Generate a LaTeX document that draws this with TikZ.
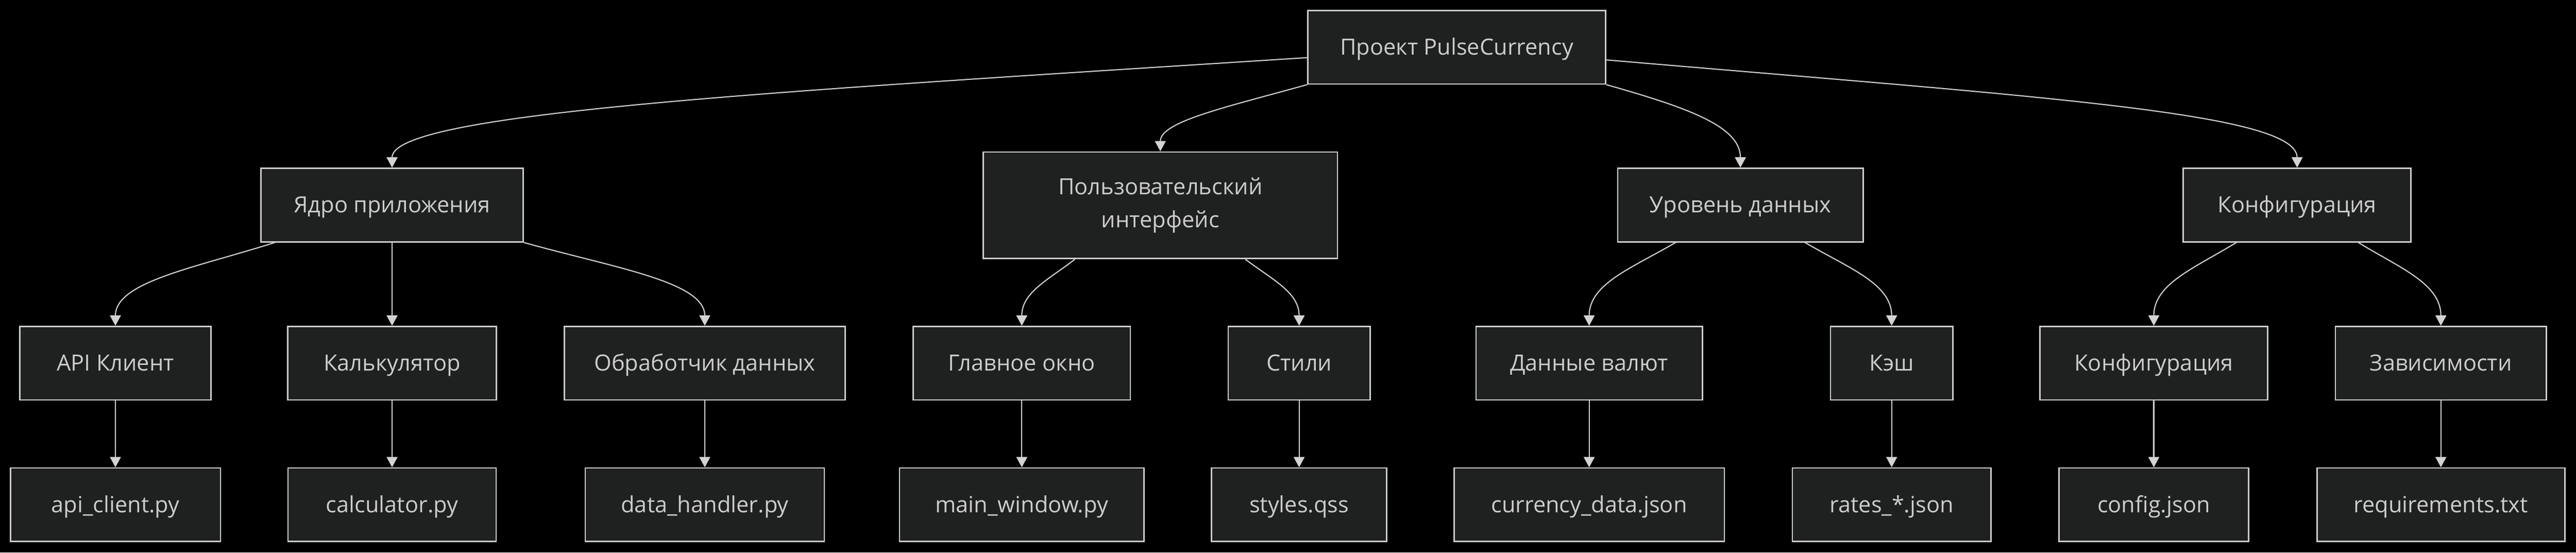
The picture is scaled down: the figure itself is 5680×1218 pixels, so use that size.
\documentclass[tikz,border=0pt]{standalone}
\usepackage{fontspec}
\setmainfont{Open Sans}
\usetikzlibrary{arrows.meta,calc}
\definecolor{nodefill}{HTML}{1F2020}
\definecolor{nodeline}{HTML}{CCCCCC}
\definecolor{linkline}{HTML}{D3D3D3}

\begin{document}
\begin{tikzpicture}[x=0.25pt,y=-0.25pt,
	box/.style={draw=nodeline,fill=nodefill,line width=0.75pt,text=nodeline,minimum height=40.5pt,inner sep=0pt,text height=9.5pt,text depth=1pt,align=center,font=\fontsize{12.3}{18}\selectfont},
	link/.style={draw=linkline,line width=0.6pt,-{Triangle[length=5.7pt,width=6pt]}}]
	% draw background
	\fill[black] (0,0) rectangle (5680,1218);
	% draw top node
	\node[box,minimum width=164pt] (root) at (3212,104) {Проект PulseCurrency};
	% draw first level
	\node[box,minimum width=144.5pt] (core) at (864.5,452) {Ядро приложения};
	\node[box,minimum width=195.25pt,minimum height=58.75pt,text height=,text depth=] (ui) at (2558.5,452.5) {Пользовательский\\интерфейс};
	\node[box,minimum width=135.25pt] (data) at (3837.5,452) {Уровень данных};
	\node[box,minimum width=125.5pt] (conf) at (5065,452) {Конфигурация};
	% draw second level
	\node[box,minimum width=105.5pt] (api) at (254.5,800.5) {API Клиент};
	\node[box,minimum width=115.1pt] (calc) at (864.5,800.5) {Калькулятор};
	\node[box,minimum width=154.8pt] (handler) at (1554,800.5) {Обработчик данных};
	\node[box,minimum width=119.6pt] (mainwin) at (2253,800.5) {Главное окно};
	\node[box,minimum width=78.25pt] (styles) at (2864.5,800.5) {Стили};
	\node[box,minimum width=124.75pt] (currency) at (3504,800.5) {Данные валют};
	\node[box,minimum width=67.5pt] (cache) at (4171,800.5) {Кэш};
	\node[box,minimum width=125.5pt] (config) at (4749,800.5) {Конфигурация};
	\node[box,minimum width=116.25pt] (deps) at (5382,800.5) {Зависимости};
	% draw files
	\node[box,minimum width=115.75pt] (apifile) at (254.5,1112.5) {api\_client.py};
	\node[box,minimum width=114.75pt] (calcfile) at (864.5,1112.5) {calculator.py};
	\node[box,minimum width=131.75pt] (handlerfile) at (1554,1112.5) {data\_handler.py};
	\node[box,minimum width=134.75pt] (mainfile) at (2253,1112.5) {main\_window.py};
	\node[box,minimum width=96.65pt] (qssfile) at (2864.5,1112.5) {styles.qss};
	\node[box,minimum width=149pt] (currfile) at (3504,1112.5) {currency\_data.json};
	\node[box,minimum width=109.4pt] (ratesfile) at (4171,1112.5) {rates\_*.json};
	\node[box,minimum width=104.5pt] (configfile) at (4749,1112.5) {config.json};
	\node[box,minimum width=136.6pt] (reqfile) at (5382,1112.5) {requirements.txt};
	% links from top node
	\draw[link] ($(root.west)+(0,23)$) .. controls +(-1186,76) and +(0,-121) .. (core.north);
	\draw[link] (root.south west) .. controls +(-184,51) and +(0,-65) .. (ui.north);
	\draw[link] (root.south east) .. controls +(180,51) and +(0,-91) .. (data.north);
	\draw[link] ($(root.east)+(0,28)$) .. controls +(960,82) and +(0,-121) .. (conf.north);
	% links to second level
	\draw[link] ($(core.south)+(-258.5,0)$) .. controls +(-176,56) and +(0,-97) .. (api.north);
	\draw[link] (core.south) -- (calc.north);
	\draw[link] (core.south east) .. controls +(200,56) and +(0,-97) .. (handler.north);
	\draw[link] ($(ui.south)+(-188.5,0)$) .. controls +(-58,45) and +(0,-74) .. (mainwin.north);
	\draw[link] ($(ui.south)+(187.5,0)$) .. controls +(59,45) and +(0,-74) .. (styles.north);
	\draw[link] ($(data.south)+(-143,0)$) .. controls +(-95,56) and +(0,-93) .. (currency.north);
	\draw[link] ($(data.south)+(142.5,0)$) .. controls +(95,56) and +(0,-93) .. (cache.north);
	\draw[link] ($(conf.south)+(-134,0)$) .. controls +(-91,56) and +(0,-93) .. (config.north);
	\draw[link] ($(conf.south)+(135,0)$) .. controls +(91,56) and +(0,-93) .. (deps.north);
	% links to files
	\foreach \a/\b in {api/apifile,calc/calcfile,handler/handlerfile,mainwin/mainfile,styles/qssfile,currency/currfile,cache/ratesfile,config/configfile,deps/reqfile}
		\draw[link] (\a.south) -- (\b.north);
\end{tikzpicture}
\end{document}
